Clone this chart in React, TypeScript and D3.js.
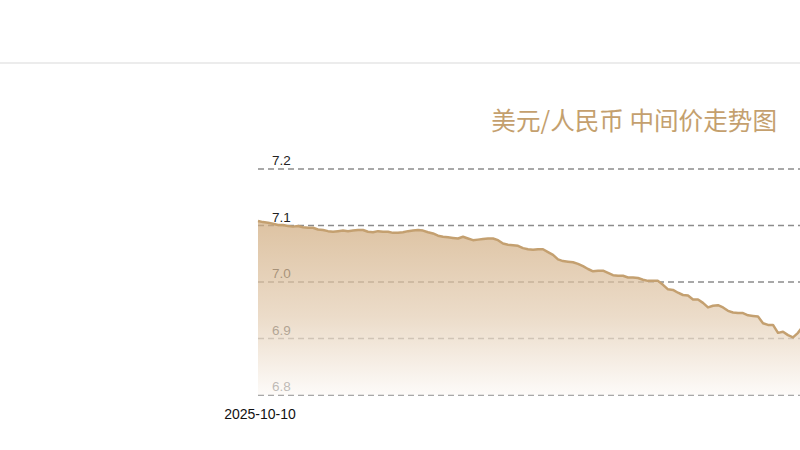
import React, { useEffect, useRef } from 'react';
import * as d3 from 'd3';

// USD/CNY central parity, daily, starting 2025-10-10
const startDate = '2025-10-10';
const rates: number[] = [
  7.108, 7.106, 7.105, 7.103, 7.101, 7.101, 7.099, 7.098, 7.099, 7.097,
  7.096, 7.096, 7.093, 7.092, 7.090, 7.089, 7.090, 7.091, 7.090, 7.091,
  7.092, 7.092, 7.089, 7.088, 7.090, 7.089, 7.089, 7.087, 7.087, 7.088,
  7.090, 7.091, 7.092, 7.091, 7.088, 7.086, 7.082, 7.080, 7.079, 7.078,
  7.077, 7.080, 7.077, 7.074, 7.075, 7.076, 7.077, 7.077, 7.074, 7.068,
  7.066, 7.065, 7.064, 7.060, 7.058, 7.057, 7.058, 7.058, 7.053, 7.048,
  7.040, 7.037, 7.036, 7.035, 7.032, 7.028, 7.023, 7.019, 7.020, 7.020,
  7.016, 7.012, 7.011, 7.011, 7.008, 7.008, 7.007, 7.004, 7.002, 7.002,
  7.002, 6.995, 6.987, 6.986, 6.981, 6.977, 6.976, 6.969, 6.969, 6.963,
  6.955, 6.958, 6.959, 6.955, 6.949, 6.946, 6.945, 6.945, 6.941, 6.940,
  6.939, 6.927, 6.924, 6.924, 6.910, 6.912, 6.906, 6.902, 6.910, 6.922,
];
const yTicks = [6.8, 6.9, 7.0, 7.1, 7.2];
const title = '美元/人民币 中间价走势图';

const App: React.FC = () => {
  const svgRef = useRef<SVGSVGElement>(null);

  useEffect(() => {
    if (!svgRef.current) return;
    const svg = d3.select(svgRef.current);
    svg.selectAll('*').remove();

    const W = 800;
    const left = 258;
    const step = 5;

    const x = d3
      .scaleLinear()
      .domain([0, rates.length - 1])
      .range([left, left + step * (rates.length - 1)]);

    const y = d3.scaleLinear().domain([6.8, 7.2]).range([395, 169]);

    // header separator
    svg.append('line')
      .attr('x1', 0).attr('x2', W)
      .attr('y1', 63).attr('y2', 63)
      .attr('stroke', '#e6e6e6')
      .attr('stroke-width', 1.5);

    // title
    svg.append('text')
      .attr('x', 777)
      .attr('y', 130)
      .attr('text-anchor', 'end')
      .style('font-family', '"Noto Sans CJK SC", "Noto Sans", sans-serif')
      .style('font-size', '24.6px')
      .style('fill', '#c4a06e')
      .text(title);

    // grid lines + labels (drawn under the area)
    const grid = svg.append('g');
    yTicks.forEach(t => {
      grid.append('line')
        .attr('x1', left).attr('x2', W)
        .attr('y1', y(t)).attr('y2', y(t))
        .attr('stroke', '#8c8c8c')
        .attr('stroke-width', 1.3)
        .attr('stroke-dasharray', '6,4');
      grid.append('text')
        .attr('x', 272)
        .attr('y', y(t) - 4)
        .style('font-family', '"Liberation Sans", Arial, sans-serif')
        .style('font-size', '13.5px')
        .style('fill', '#222')
        .text(t.toFixed(1));
    });

    // area gradient
    const defs = svg.append('defs');
    const grad = defs.append('linearGradient')
      .attr('id', 'area-grad')
      .attr('gradientUnits', 'userSpaceOnUse')
      .attr('x1', 0).attr('y1', y(d3.max(rates) || 7.1))
      .attr('x2', 0).attr('y2', y(6.8));
    grad.append('stop').attr('offset', '0%').attr('stop-color', 'rgb(208,171,126)').attr('stop-opacity', 0.72);
    grad.append('stop').attr('offset', '55%').attr('stop-color', 'rgb(228,206,180)').attr('stop-opacity', 0.72);
    grad.append('stop').attr('offset', '100%').attr('stop-color', 'rgb(252,249,246)').attr('stop-opacity', 0.72);

    const area = d3.area<number>()
      .x((_, i) => x(i))
      .y0(y(6.8))
      .y1(d => y(d));

    svg.append('path')
      .datum(rates)
      .attr('d', area)
      .attr('fill', 'url(#area-grad)');

    const line = d3.line<number>()
      .x((_, i) => x(i))
      .y(d => y(d));

    svg.append('path')
      .datum(rates)
      .attr('d', line)
      .attr('fill', 'none')
      .attr('stroke', '#c4a070')
      .attr('stroke-width', 2.5)
      .attr('stroke-linejoin', 'round');

    // first date label
    svg.append('text')
      .attr('x', x(0) + 2)
      .attr('y', 419)
      .attr('text-anchor', 'middle')
      .style('font-family', '"Liberation Sans", Arial, sans-serif')
      .style('font-size', '14px')
      .style('fill', '#111')
      .text(startDate);
  }, []);

  return (
    <svg
      ref={svgRef}
      width={800}
      height={450}
      style={{ position: 'absolute', left: 0, top: 0, background: '#fff', overflow: 'hidden' }}
    />
  );
};

export default App;
